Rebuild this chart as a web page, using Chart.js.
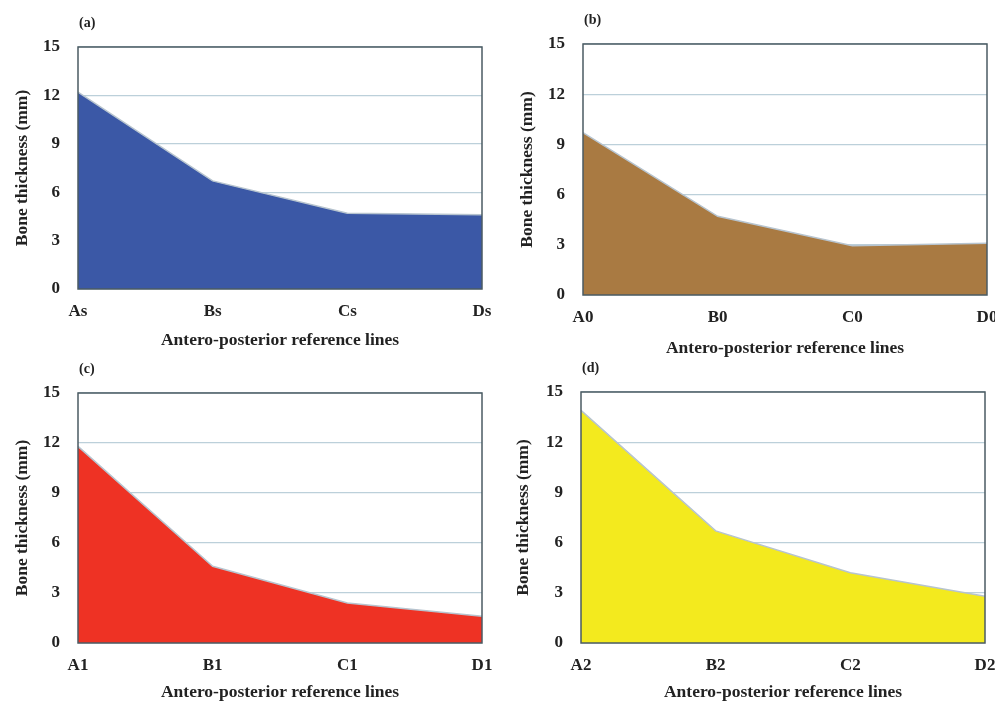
<!DOCTYPE html>
<html>
<head>
<meta charset="utf-8">
<script src="https://cdn.jsdelivr.net/npm/chart.js@4.4.0/dist/chart.umd.min.js"></script>
<style>
  body { margin: 0; background: #fff; }
  #wrap { position: relative; width: 995px; height: 704px; }
  .panel { position: absolute; }
</style>
</head>
<body>
<div id="wrap">
  <div class="panel" id="pa" style="left:0px;top:0px;width:497px;height:352px"><canvas id="chartA"></canvas></div>
  <div class="panel" id="pb" style="left:495px;top:0px;width:500px;height:360px"><canvas id="chartB"></canvas></div>
  <div class="panel" id="pc" style="left:0px;top:350px;width:497px;height:354px"><canvas id="chartC"></canvas></div>
  <div class="panel" id="pd" style="left:495px;top:350px;width:500px;height:354px"><canvas id="chartD"></canvas></div>
</div>
<script>
// Data
const labelsA = ["As", "Bs", "Cs", "Ds"];
const labelsB = ["A0", "B0", "C0", "D0"];
const labelsC = ["A1", "B1", "C1", "D1"];
const labelsD = ["A2", "B2", "C2", "D2"];

const thicknessA = [12.2, 6.7, 4.7, 4.6];
const thicknessB = [9.7, 4.7, 2.95, 3.1];
const thicknessC = [11.8, 4.6, 2.4, 1.6];
const thicknessD = [13.9, 6.7, 4.2, 2.8];

const yTicks = [0, 3, 6, 9, 12, 15];

const xTitle = "Antero-posterior reference lines";
const yTitle = "Bone thickness (mm)";

const fontFamily = "'Liberation Serif', serif";
const textColor = "#222";

// Panel letter + box around the plot
const framePlugin = {
  id: "frame",
  afterDatasetsDraw(chart, args, opts) {
    const { ctx, chartArea: a } = chart;
    ctx.save();
    ctx.strokeStyle = "#4b5b63";
    ctx.lineWidth = 1.5;
    ctx.strokeRect(a.left, a.top, a.right - a.left, a.bottom - a.top);
    ctx.fillStyle = textColor;
    ctx.font = "bold 14px " + fontFamily;
    ctx.textBaseline = "middle";
    ctx.textAlign = "left";
    ctx.fillText(opts.letter, a.left + 1, a.top - 24);
    ctx.restore();
  },
};

function makeChart(id, letter, labels, values, color, geo) {
  const ctx = document.getElementById(id).getContext("2d");
  return new Chart(ctx, {
    type: "line",
    data: {
      labels: labels,
      datasets: [
        {
          data: values,
          backgroundColor: color,
          borderColor: "#b7c4cf",
          borderWidth: 1.5,
          fill: "origin",
          tension: 0,
          pointRadius: 0,
        },
      ],
    },
    options: {
      responsive: true,
      maintainAspectRatio: false,
      animation: false,
      layout: { padding: { top: geo.top, right: geo.right, left: 0, bottom: 0 } },
      plugins: {
        legend: { display: false },
        tooltip: { enabled: false },
        frame: { letter: letter },
      },
      scales: {
        x: {
          offset: false,
          grid: { display: false, drawTicks: false },
          border: { display: false },
          ticks: {
            color: textColor,
            font: { family: fontFamily, size: 17, weight: "bold" },
            padding: geo.xPad,
            maxRotation: 0,
            autoSkip: false,
          },
          title: {
            display: true,
            text: xTitle,
            color: textColor,
            font: { family: fontFamily, size: 17.5, weight: "bold" },
            padding: { top: 0, bottom: 1 },
          },
          afterFit(scale) {
            scale.height = geo.xHeight;
            scale.paddingLeft = 0;
            scale.paddingRight = 0;
          },
        },
        y: {
          min: 0,
          max: 15,
          afterBuildTicks(scale) {
            scale.ticks = yTicks.map((v) => ({ value: v }));
          },
          grid: { color: "#bcd0da", lineWidth: 1.2, drawTicks: false },
          border: { display: false },
          ticks: {
            color: textColor,
            font: { family: fontFamily, size: 17, weight: "bold" },
            padding: 18,
          },
          title: {
            display: true,
            text: yTitle,
            color: textColor,
            font: { family: fontFamily, size: 17.5, weight: "bold" },
            padding: { top: geo.yTitlePad, bottom: 0 },
          },
          afterFit(scale) {
            scale.width = geo.left;
          },
        },
      },
    },
    plugins: [framePlugin],
  });
}

makeChart("chartA", "(a)", labelsA, thicknessA, "#3b58a6",
  { left: 78, top: 47, right: 15, xHeight: 63, xPad: 12, yTitlePad: 12 });
makeChart("chartB", "(b)", labelsB, thicknessB, "#a97a42",
  { left: 88, top: 44, right: 8, xHeight: 65, xPad: 12, yTitlePad: 22 });
makeChart("chartC", "(c)", labelsC, thicknessC, "#ee3224",
  { left: 78, top: 43, right: 15, xHeight: 61, xPad: 12, yTitlePad: 12 });
makeChart("chartD", "(d)", labelsD, thicknessD, "#f3ea1e",
  { left: 86, top: 42, right: 10, xHeight: 61, xPad: 12, yTitlePad: 18 });
</script>
</body>
</html>
